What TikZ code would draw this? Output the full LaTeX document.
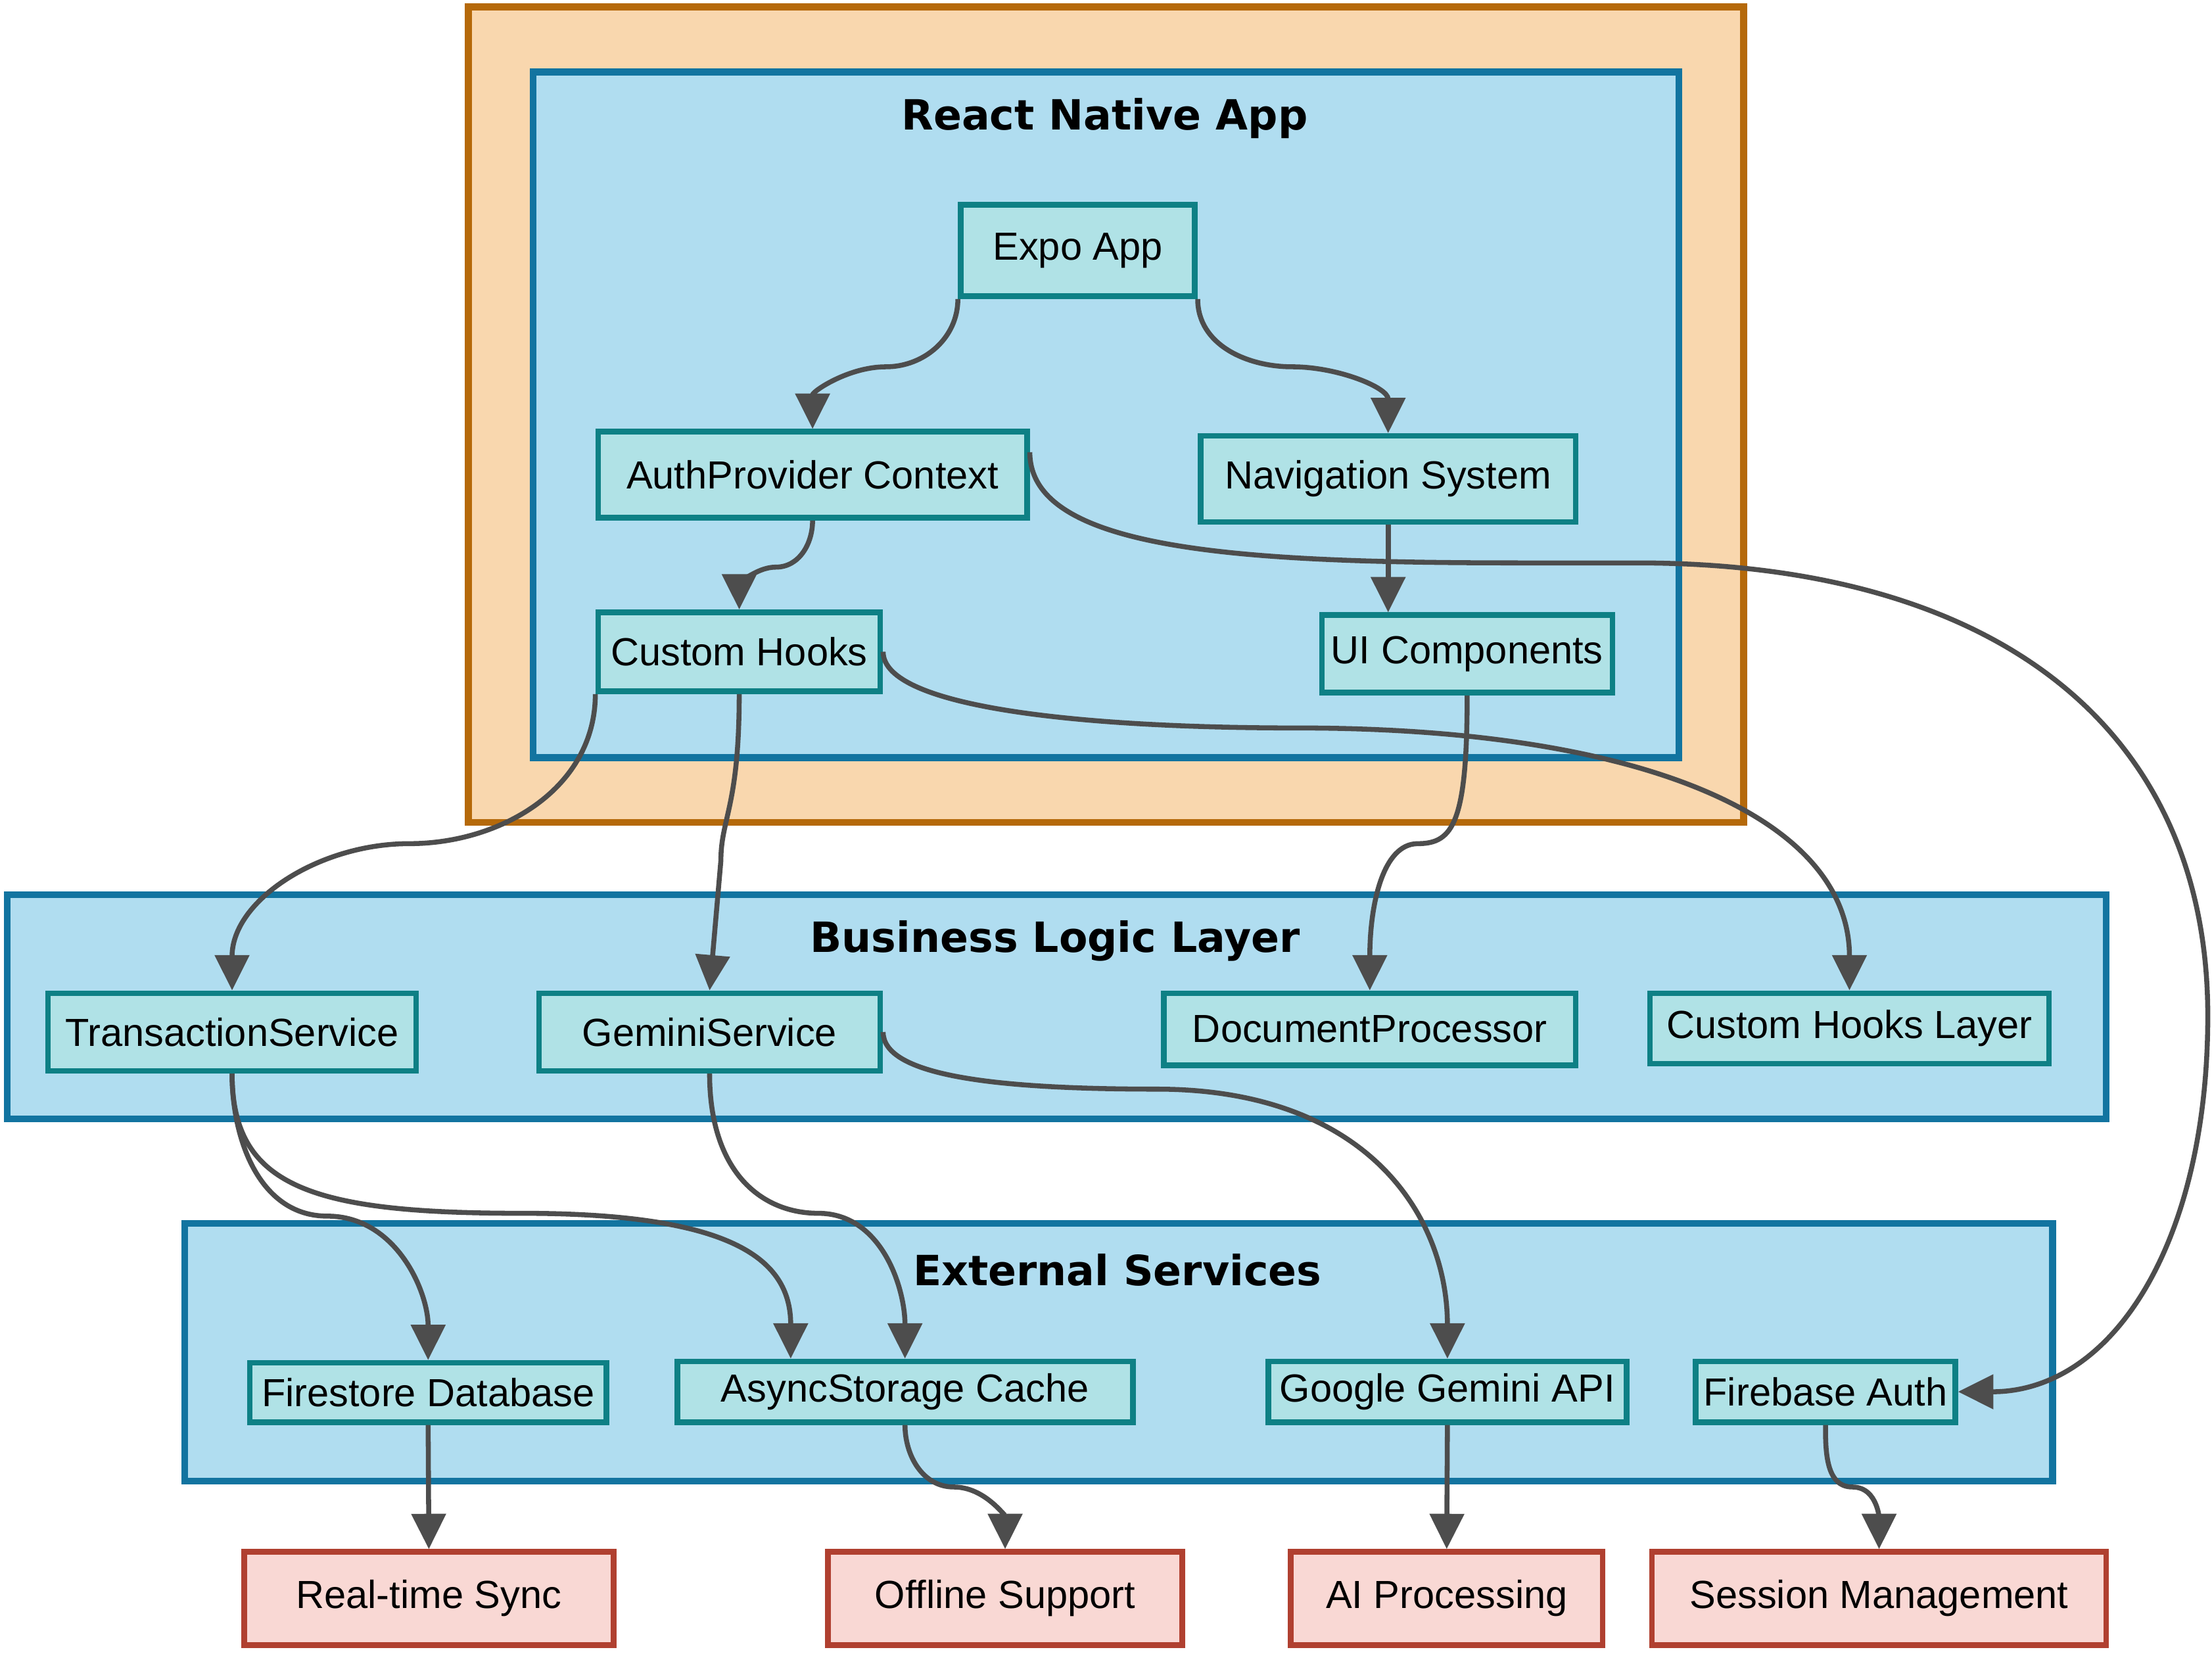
\documentclass[tikz,border=0pt]{standalone}
\usepackage{fontspec}
\setmainfont{Liberation Sans}
\newfontfamily\titlefont{DejaVu Sans}
\usetikzlibrary{arrows.meta,calc}

\definecolor{appline}{HTML}{B5690A}
\definecolor{appfill}{HTML}{F9D7AE}
\definecolor{grpline}{HTML}{1274A0}
\definecolor{grpfill}{HTML}{B0DDF0}
\definecolor{nodeline}{HTML}{0E8085}
\definecolor{nodefill}{HTML}{B0E2E6}
\definecolor{resline}{HTML}{B04030}
\definecolor{resfill}{HTML}{F9D8D4}
\definecolor{flowgray}{HTML}{4D4D4D}

\tikzset{
  svcbox/.style={draw=nodeline,fill=nodefill,line width=2.3pt,inner sep=0pt,
    font=\fontsize{15.8}{19}\selectfont},
  resbox/.style={svcbox,draw=resline,fill=resfill},
  layerbox/.style={draw=grpline,fill=grpfill,line width=2.7pt},
  layertitle/.style={font=\titlefont\bfseries\fontsize{16.8}{20}\selectfont},
  flow/.style={draw=flowgray,line width=2pt,-{Triangle[length=0.5cm,width=0.48cm]}}
}

\begin{document}
\begin{tikzpicture}[x=0.02cm,y=-0.02cm]
\useasboundingbox (0,0) rectangle (1568,1172);

% layers
\draw[appline,fill=appfill,line width=2.8pt] (332,5) rectangle (1236,583);
\draw[layerbox] (378,51) rectangle (1190,537);
\draw[layerbox] (5,634) rectangle (1493,793);
\draw[layerbox] (131,867) rectangle (1455,1050);
\node[layertitle] (rntitle) at (783,84) {React Native App};
\node[layertitle] (bltitle) at (748,667) {Business Logic Layer};
\node[layertitle] (extitle) at (792,900) {External Services};

% app
\node[svcbox,minimum width=3.32cm,minimum height=1.30cm] (expo) at (764,177.5) {Expo App};
\node[svcbox,minimum width=6.08cm,minimum height=1.22cm] (auth) at (576,336.5) {AuthProvider Context};
\node[svcbox,minimum width=5.32cm,minimum height=1.22cm] (nav) at (984,339.5) {Navigation System};
\node[svcbox,minimum width=4.00cm,minimum height=1.12cm] (hooks) at (524,462) {Custom Hooks};
\node[svcbox,minimum width=4.12cm,minimum height=1.10cm] (ui) at (1040,463.5) {UI Components};

% business logic
\node[svcbox,minimum width=5.22cm,minimum height=1.10cm] (trans) at (164.5,731.5) {TransactionService};
\node[svcbox,minimum width=4.84cm,minimum height=1.10cm] (gemsvc) at (503,731.5) {GeminiService};
\node[svcbox,minimum width=5.84cm,minimum height=1.02cm] (docproc) at (971,729.5) {DocumentProcessor};
\node[svcbox,minimum width=5.66cm,minimum height=1.00cm] (hooklayer) at (1311,729) {Custom Hooks Layer};

% external
\node[svcbox,minimum width=5.06cm,minimum height=0.84cm] (firestore) at (303.5,987) {Firestore Database};
\node[svcbox,minimum width=6.46cm,minimum height=0.86cm] (async) at (641.5,986.5) {AsyncStorage Cache};
\node[svcbox,minimum width=5.08cm,minimum height=0.86cm] (gemapi) at (1026,986.5) {Google Gemini API};
\node[svcbox,minimum width=3.68cm,minimum height=0.86cm] (fbauth) at (1294,986.5) {Firebase Auth};

% results
\node[resbox,minimum width=5.24cm,minimum height=1.32cm] (sync) at (304,1133) {Real-time Sync};
\node[resbox,minimum width=5.02cm,minimum height=1.32cm] (offline) at (712.5,1133) {Offline Support};
\node[resbox,minimum width=4.42cm,minimum height=1.32cm] (aiproc) at (1025.5,1133) {AI Processing};
\node[resbox,minimum width=6.44cm,minimum height=1.32cm] (session) at (1332,1133) {Session Management};

% flows
\draw[flow] (expo.south west) to[out=-90,in=0] (628,260) to[out=180,in=90] (auth.north);
\draw[flow] (expo.south east) to[out=-90,in=180] (916,260) to[out=0,in=90] (nav.north);
\draw[flow] (auth.south) to[out=-90,in=0] (550,402) to[out=180,in=90] (hooks.north);
\draw[flow] ($(auth.east)+(0,-16)$) .. controls +(0,70) and +(-200,0) .. (1080,399) -- (1160,399)
  .. controls +(260,0) and +(0,-200) .. (1565,720) .. controls +(0,160) and +(110,0) .. (fbauth.east);
\draw[flow] (nav.south) -- (nav.south |- ui.north);
\draw[flow] (hooks.south west) to[out=-90,in=0] (290,598) to[out=180,in=90] (trans.north);
\draw[flow] (hooks.south) .. controls +(0,80) and +(0,-30) .. (511,610) -- (gemsvc.north);
\draw[flow] (hooks.east) .. controls +(0,40) and +(-150,0) .. (920,516)
  .. controls +(250,0) and +(0,-120) .. (hooklayer.north);
\draw[flow] (ui.south) .. controls +(0,90) and +(25,0) .. (1005,598)
  .. controls +(-25,0) and +(0,-60) .. (docproc.north);
\draw[flow] (trans.south) to[out=-90,in=180] (232,862) to[out=0,in=90] (firestore.north);
\draw[flow] (trans.south) .. controls +(0,80) and +(-150,0) .. (370,860)
  .. controls +(150,0) and +(0,-70) .. ($(async.north)+(-81,0)$);
\draw[flow] (gemsvc.south) .. controls +(0,70) and +(-40,0) .. (580,860)
  .. controls +(45,0) and +(0,-50) .. (async.north);
\draw[flow] (gemsvc.east) .. controls +(0,30) and +(-120,0) .. (820,772)
  .. controls +(150,0) and +(0,-100) .. (gemapi.north);
\draw[flow] (firestore.south) -- (sync.north);
\draw[flow] (async.south) to[out=-90,in=180] (676,1054) to[out=0,in=90] (offline.north);
\draw[flow] (gemapi.south) -- (aiproc.north);
\draw[flow] (fbauth.south) to[out=-90,in=180] (1313,1054) to[out=0,in=90] (session.north);

\end{tikzpicture}
\end{document}
